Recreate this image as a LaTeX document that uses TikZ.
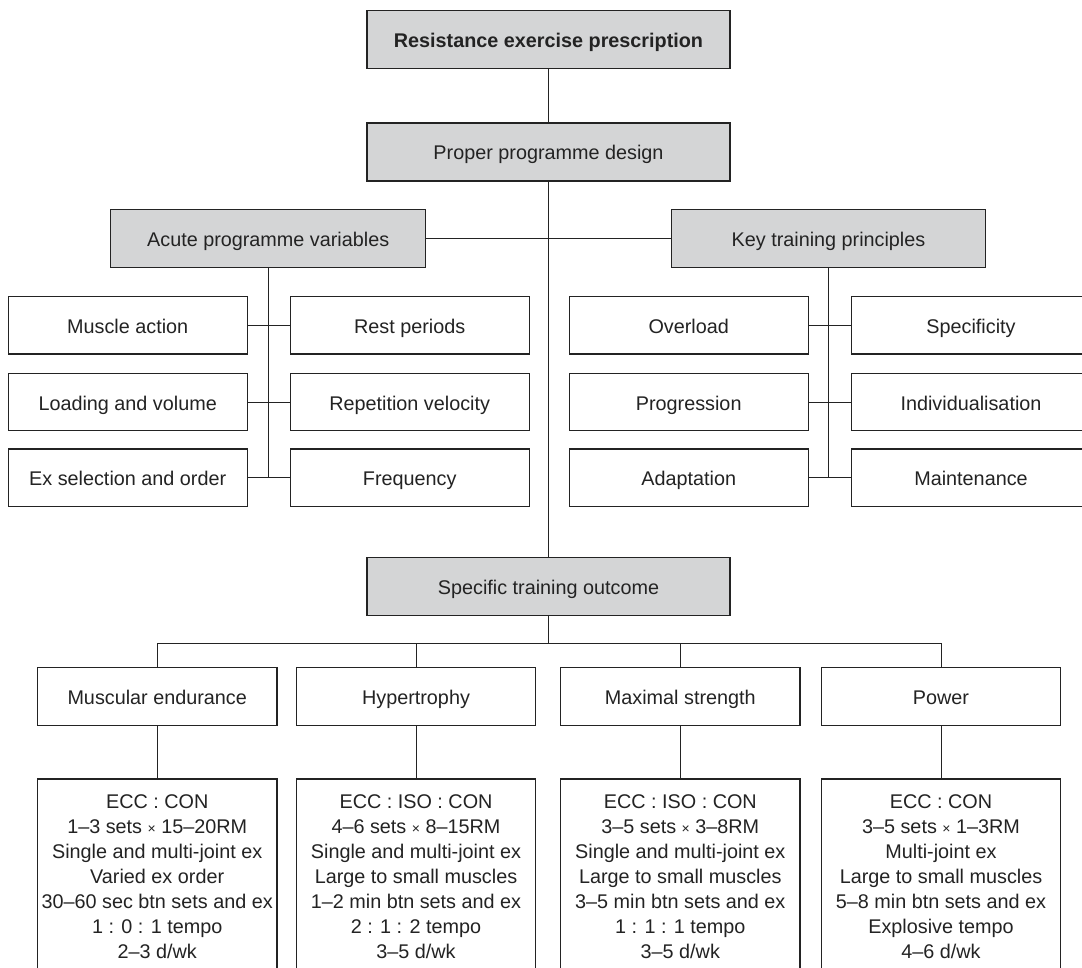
\documentclass[tikz,border=0pt]{standalone}
\usepackage{fontspec}
\setmainfont{Liberation Sans}
\definecolor{boxgray}{RGB}{212,213,214}
\definecolor{ink}{RGB}{35,35,35}
\begin{document}
\begin{tikzpicture}[x=1pt,y=-1pt,
  base/.style={draw=ink, line width=1.2pt, inner sep=0pt, text=ink,
    font=\fontsize{19.8}{25}\selectfont, align=center},
  oneline/.style={base, text height=16pt, text depth=0pt},
  greybox/.style={oneline, fill=boxgray, minimum width=363pt, minimum height=58pt},
  itembox/.style={oneline, fill=white, minimum width=239pt, minimum height=57.3pt},
  detailbox/.style={base, fill=white, minimum width=239.5pt, minimum height=195.4pt},
  link/.style={draw=ink, line width=0.9pt},
  thinlink/.style={draw=ink, line width=0.5pt}]
\useasboundingbox (0,0) rectangle (1082,968);
\clip (0,0) rectangle (1082,968);
\fill[white] (0,0) rectangle (1082,968);

% top level
\node[greybox, font={\fontsize{19.8}{25}\selectfont\bfseries}] (top) at (548.5,39.7) {Resistance exercise prescription};
\node[greybox] (ppd) at (548.5,152) {Proper programme design};
\node[greybox, minimum width=315pt] (apv) at (268.2,238.3) {Acute programme variables};
\node[greybox, minimum width=314.4pt] (ktp) at (828.5,238.3) {Key training principles};

% acute programme variables
\node[itembox] (ma) at (127.7,325.3) {Muscle action};
\node[itembox] (rp) at (409.7,325.3) {Rest periods};
\node[itembox] (lv) at (127.7,402.2) {Loading and volume};
\node[itembox] (rv) at (409.7,402.2) {Repetition velocity};
\node[itembox] (es) at (127.7,477.7) {Ex selection and order};
\node[itembox] (fr) at (409.7,477.7) {Frequency};

% key training principles
\node[itembox] (ov) at (688.7,325.3) {Overload};
\node[itembox] (sp) at (971,325.3) {Specificity};
\node[itembox] (pg) at (688.7,402.2) {Progression};
\node[itembox] (iv) at (971,402.2) {Individualisation};
\node[itembox] (ad) at (688.7,477.7) {Adaptation};
\node[itembox] (mt) at (971,477.7) {Maintenance};

% outcome
\node[greybox, minimum height=57.6pt] (sto) at (548.5,586.5) {Specific training outcome};
\node[itembox, minimum width=239.5pt, minimum height=57.6pt] (me) at (157.2,696.5) {Muscular endurance};
\node[itembox, minimum width=239.5pt, minimum height=57.6pt] (hy) at (416,696.5) {Hypertrophy};
\node[itembox, minimum width=239.5pt, minimum height=57.6pt] (ms) at (680.3,696.5) {Maximal strength};
\node[itembox, minimum width=239.5pt, minimum height=57.6pt] (pw) at (941,696.5) {Power};

\node[detailbox] (d1) at (157.2,876.7) {ECC : CON\\1--3 sets {\fontsize{14}{25}\selectfont ×} 15--20RM\\Single and multi-joint ex\\Varied ex order\\30--60 sec btn sets and ex\\1 : 0 : 1 tempo\\2--3 d/wk};
\node[detailbox] (d2) at (416,876.7) {ECC : ISO : CON\\4--6 sets {\fontsize{14}{25}\selectfont ×} 8--15RM\\Single and multi-joint ex\\Large to small muscles\\1--2 min btn sets and ex\\2 : 1 : 2 tempo\\3--5 d/wk};
\node[detailbox] (d3) at (680.3,876.7) {ECC : ISO : CON\\3--5 sets {\fontsize{14}{25}\selectfont ×} 3--8RM\\Single and multi-joint ex\\Large to small muscles\\3--5 min btn sets and ex\\1 : 1 : 1 tempo\\3--5 d/wk};
\node[detailbox] (d4) at (941,876.7) {ECC : CON\\3--5 sets {\fontsize{14}{25}\selectfont ×} 1--3RM\\Multi-joint ex\\Large to small muscles\\5--8 min btn sets and ex\\Explosive tempo\\4--6 d/wk};

% connectors
\draw[link] (top.south) -- (ppd.north);
\draw[link] (ppd.south) -- (sto.north);
\draw[link] (apv.east) -- (ktp.west);
\draw[link] (apv.south) -- (apv.south |- es.east);
\draw[link] (ktp.south) -- (ktp.south |- ad.east);
\draw[link] (ma.east) -- (rp.west);
\draw[thinlink] (lv.east) -- (rv.west);
\draw[link] (es.east) -- (fr.west);
\draw[link] (ov.east) -- (sp.west);
\draw[thinlink] (pg.east) -- (iv.west);
\draw[link] (ad.east) -- (mt.west);

\coordinate (bus) at (548.5,643.7);
\draw[link] (sto.south) -- (bus);
\draw[link] (me.north) -- (me.north |- bus) -- (pw.north |- bus) -- (pw.north);
\draw[link] (hy.north) -- (hy.north |- bus);
\draw[link] (ms.north) -- (ms.north |- bus);
\draw[link] (me.south) -- (d1.north);
\draw[link] (hy.south) -- (d2.north);
\draw[link] (ms.south) -- (d3.north);
\draw[link] (pw.south) -- (d4.north);
\end{tikzpicture}
\end{document}
